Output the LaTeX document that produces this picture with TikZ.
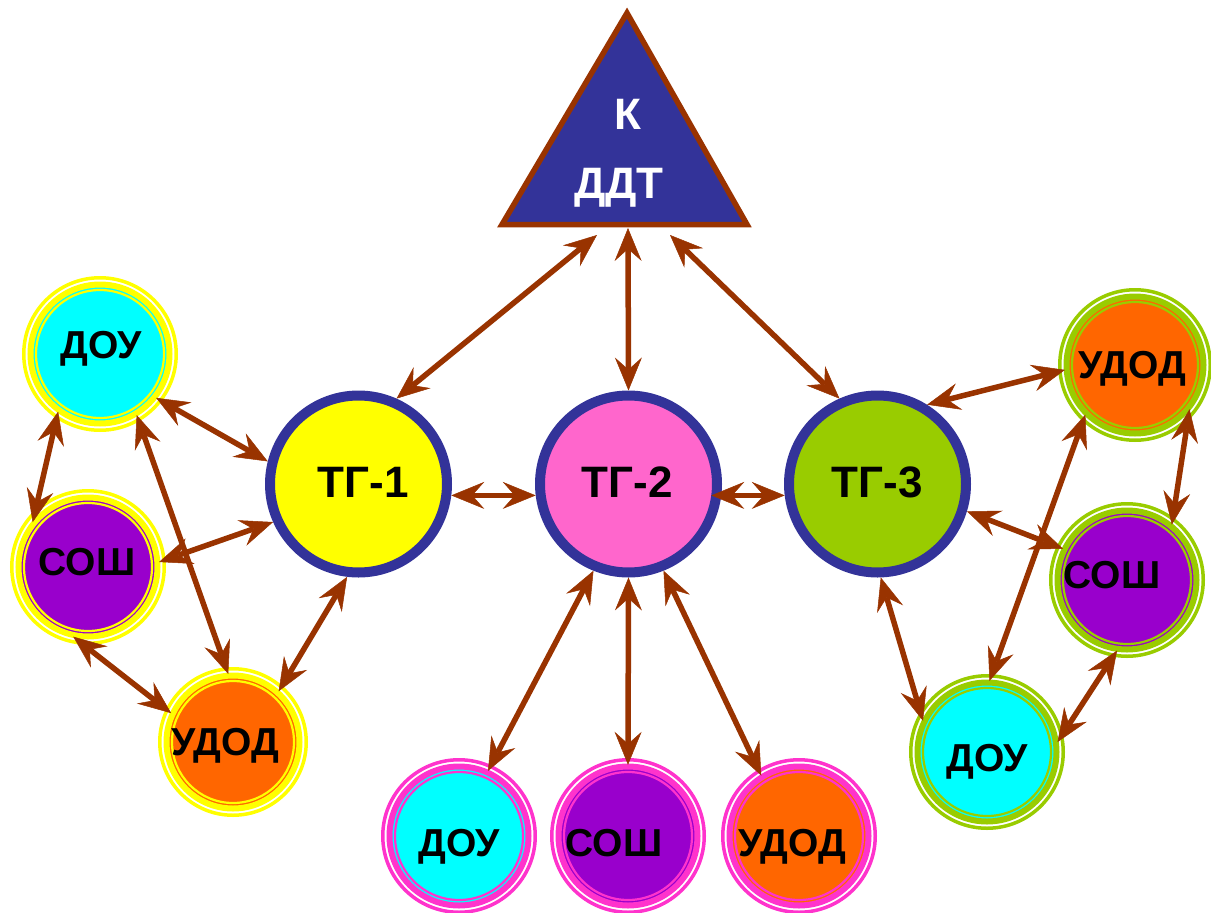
\documentclass[tikz,border=0pt]{standalone}
\usepackage{fontspec}
\setmainfont{Liberation Sans}
\usetikzlibrary{arrows.meta}
\definecolor{navy}{HTML}{333399}
\definecolor{brn}{HTML}{993300}
\definecolor{yel}{HTML}{FFFF00}
\definecolor{pnk}{HTML}{FF66CC}
\definecolor{grn}{HTML}{99CC00}
\definecolor{cyn}{HTML}{00FFFF}
\definecolor{prp}{HTML}{9900CC}
\definecolor{org}{HTML}{FF6600}
\definecolor{pring}{HTML}{FF33CC}
\tikzset{
  lbl/.style={font=\fontsize{39}{41}\selectfont\bfseries, text=black, inner sep=0pt, anchor=base},
  tglbl/.style={font=\fontsize{44}{46}\selectfont\bfseries, text=black, inner sep=0pt, anchor=base},
  klbl/.style={font=\fontsize{44}{46}\selectfont\bfseries, text=white, inner sep=0pt, anchor=base},
  tgnode/.style={circle, draw=navy, line width=10pt, minimum size=177pt, inner sep=0pt},
  conn/.style={draw=brn, line width=5.5pt, fill=brn,
    {Stealth[length=33pt, width=27pt, inset=12pt, line width=0.5pt]}-{Stealth[length=33pt, width=27pt, inset=12pt, line width=0.5pt]}}
}
\newcommand\ringnode[8]{%
  \node[circle, minimum size={2*#4pt-14pt}, inner sep=0pt] (#1) at (#2,#3) {};
  \fill[#6] (#1.center) circle[radius={#4pt-11pt}];
  \draw[#5, line width=2.2pt] (#1.center) circle[radius={#4pt-14pt}];
  \draw[#5, line width=6pt] (#1.center) circle[radius={#4pt-8.5pt}];
  \draw[#5, line width=3.5pt] (#1.center) circle[radius={#4pt-1.75pt}];
  \node[lbl] (#1t) at (#8) {#7};
}
\begin{document}
\begin{tikzpicture}[x=1pt,y=-1pt]
\useasboundingbox (0,0) rectangle (1211,913);
% triangle
\draw[fill=navy, draw=brn, line width=5.5pt, line join=miter] (627,13) -- (747,224.5) -- (502,224.5) -- cycle;
\node[klbl] (kt1) at (628,129) {К};
\node[klbl] (kt2) at (619,198) {ДДТ};
\coordinate (kc1) at (597,235);
\coordinate (kc2) at (628,228);
\coordinate (kc3) at (670,235);
% TG nodes
\node[tgnode, fill=yel] (tg1) at (358.5,484) {};
\node[tgnode, fill=pnk] (tg2) at (628.5,484) {};
\node[tgnode, fill=grn] (tg3) at (877.5,484) {};
\node[tglbl] (tg1t) at (363,497) {ТГ-1};
\node[tglbl] (tg2t) at (627,497) {ТГ-2};
\node[tglbl] (tg3t) at (877,497) {ТГ-3};
% small circles
\ringnode{doul}{100}{354}{78}{yel}{cyn}{ДОУ}{101,358}
\ringnode{soshl}{88}{567}{78}{yel}{prp}{СОШ}{87,575}
\ringnode{udodl}{233}{742}{75}{yel}{org}{УДОД}{225,755}
\ringnode{doub}{459}{836}{78}{pring}{cyn}{ДОУ}{459,856}
\ringnode{soshb}{628}{836}{78}{pring}{prp}{СОШ}{614,856}
\ringnode{udodb}{799}{836}{78}{pring}{org}{УДОД}{792,856}
\ringnode{udodr}{1135}{365}{77}{grn}{org}{УДОД}{1132,378}
\ringnode{soshr}{1127}{580}{78}{grn}{prp}{СОШ}{1112,588}
\ringnode{dour}{987}{752}{78}{grn}{cyn}{ДОУ}{987,771}
% connectors
\draw[conn] (kc1) -- (tg1.66);
\draw[conn] (kc2) -- (tg2.90);
\draw[conn] (kc3) -- (tg3.114);
\draw[conn] (tg1.353) -- (tg2.187);
\draw[conn, shorten <=-10pt] (tg2.353) -- (tg3.187);
\draw[conn] (tg1.166) -- (doul.322);
\draw[conn] (tg1.204) -- (soshl.4);
\draw[conn] (tg1.263) -- (udodl.48);
\draw[conn] (doul.234) -- (soshl.141);
\draw[conn] (doul.301) -- (udodl.94);
\draw[conn] (soshl.258) -- (udodl.155);
\draw[conn] (tg2.248) -- (doub.66);
\draw[conn] (tg2.270) -- (soshb.90);
\draw[conn] (tg2.292) -- (udodb.122);
\draw[conn] (tg3.58) -- (udodr.184);
\draw[conn] (tg3.343) -- (soshr.154);
\draw[conn] (tg3.272) -- (dour.154);
\draw[conn] (udodr.225) -- (dour.88);
\draw[conn] (udodr.321) -- (soshr.51);
\draw[conn] (soshr.262) -- (dour.8);
\end{tikzpicture}
\end{document}
